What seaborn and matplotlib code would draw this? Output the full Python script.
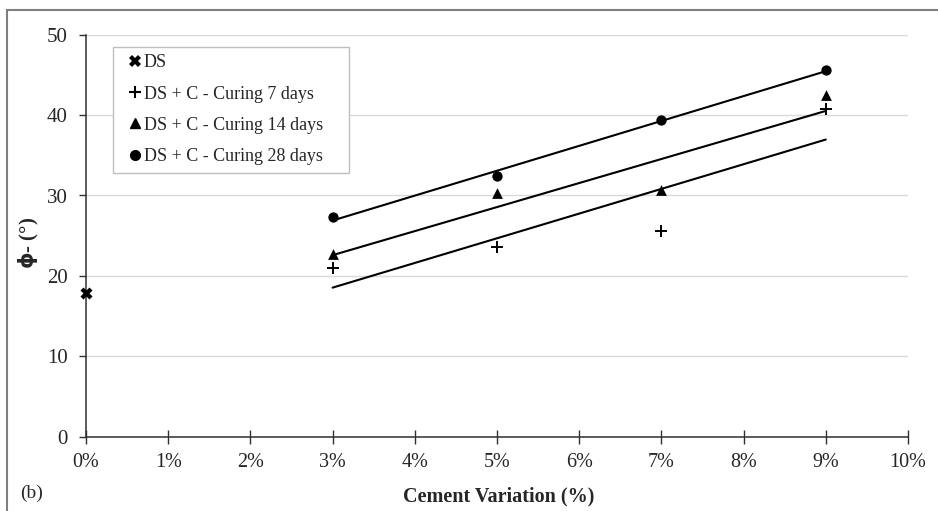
import matplotlib
matplotlib.use("Agg")
import matplotlib.pyplot as plt
import seaborn as sns
import numpy as np
import pandas as pd
from matplotlib.ticker import FuncFormatter, MultipleLocator
from matplotlib.lines import Line2D

# ---- data ----
ds_x = [0]
ds_y = [17.9]
cement = [3, 5, 7, 9]
cure7 = [21.0, 23.6, 25.6, 40.8]
cure14 = [22.7, 30.3, 30.7, 42.5]
cure28 = [27.3, 32.4, 39.4, 45.6]
labels = ["DS", "DS + C - Curing 7 days", "DS + C - Curing 14 days", "DS + C - Curing 28 days"]
xticks = [0, 1, 2, 3, 4, 5, 6, 7, 8, 9, 10]

sns.set_theme(style="white")
plt.rcParams['font.family'] = ['Liberation Serif', 'DejaVu Serif']
plt.rcParams['mathtext.fontset'] = 'dejavusans'

W, H = 938, 511
fig = plt.figure(figsize=(W/100, H/100), dpi=100)
L, R, T, B = 86, 908, 34.7, 436.7
ax = fig.add_axes([L/W, 1-B/H, (R-L)/W, (B-T)/H])
pw, ph = R-L, B-T

# grid
ax.set_axisbelow(True)
ax.yaxis.grid(True, color="#d9d9d9", linewidth=1.0)
ax.xaxis.grid(False)

# trend lines (least-squares fits over 3%..9%)
for vals in (cure7, cure14, cure28):
    df = pd.DataFrame({"x": cement, "y": vals})
    sns.regplot(data=df, x="x", y="y", ax=ax, scatter=False, ci=None, truncate=True,
                color="black", line_kws={"linewidth": 1.5})

# points
sns.scatterplot(x=ds_x, y=ds_y, ax=ax, marker="X", s=75, color="black", linewidth=0, clip_on=False, zorder=5)
ax.plot(cement, cure7, linestyle="none", marker="+", markersize=9, markeredgewidth=1.4, color="black", zorder=5)
sns.scatterplot(x=cement, y=cure14, ax=ax, marker="^", s=60, color="black", linewidth=0, zorder=5)
sns.scatterplot(x=cement, y=cure28, ax=ax, marker="o", s=55, color="black", linewidth=0, zorder=5)

ax.set_xlim(0, 10)
ax.set_ylim(0, 50)
ax.set_xticks(xticks)
ax.xaxis.set_major_formatter(FuncFormatter(lambda v, p: f"{v:.0f}%"))
ax.yaxis.set_major_locator(MultipleLocator(10))

for s in ["top", "right"]:
    ax.spines[s].set_visible(False)
for s in ["left", "bottom"]:
    ax.spines[s].set_color("#303030")
    ax.spines[s].set_linewidth(1.1)

ax.tick_params(axis="y", direction="out", length=5, width=1, color="#303030", labelsize=15, pad=8, left=True)
ax.tick_params(axis="x", direction="inout", length=10, width=1, color="#303030", labelsize=14.5, pad=7, bottom=True)

ax.set_xlabel("Cement Variation (%)", fontsize=14.5, fontweight="bold")
ax.xaxis.set_label_coords((499 - L)/pw, (B - 486)/ph)
ax.set_ylabel(r"$\mathbf{\phi}$- (°)", fontsize=15, fontweight="bold")
ax.yaxis.set_label_coords((41 - L)/pw, (B - 243)/ph)

handles = [
    Line2D([], [], linestyle="none", marker="X", markersize=8, color="black", markeredgewidth=0),
    Line2D([], [], linestyle="none", marker="+", markersize=8, markeredgewidth=1.5, color="black"),
    Line2D([], [], linestyle="none", marker="^", markersize=7, color="black"),
    Line2D([], [], linestyle="none", marker="o", markersize=7, color="black"),
]
bx0, bx1, by0, by1 = 112.7, 349.3, 46.7, 173
leg = ax.legend(handles, labels, loc="upper left",
                bbox_to_anchor=((bx0-L)/pw, (B-by1)/ph, (bx1-bx0)/pw, (by1-by0)/ph),
                mode="expand", frameon=True, fancybox=False, edgecolor="#bfbfbf", framealpha=1,
                fontsize=13, handlelength=1.6, handletextpad=-0.3, borderpad=0.42,
                labelspacing=0.79, borderaxespad=0)
leg.get_frame().set_linewidth(1.0)

fig.text(20/W, 1-493/H, "(b)", fontsize=14, va="center", ha="left")

# outer chart border
fig.add_artist(Line2D([7/W, 7/W], [0, 1-10/H], transform=fig.transFigure, color="#7f7f7f", linewidth=1.5))
fig.add_artist(Line2D([7/W, 1], [1-10/H, 1-10/H], transform=fig.transFigure, color="#7f7f7f", linewidth=1.5))

fig.savefig("out.png", dpi=100)
